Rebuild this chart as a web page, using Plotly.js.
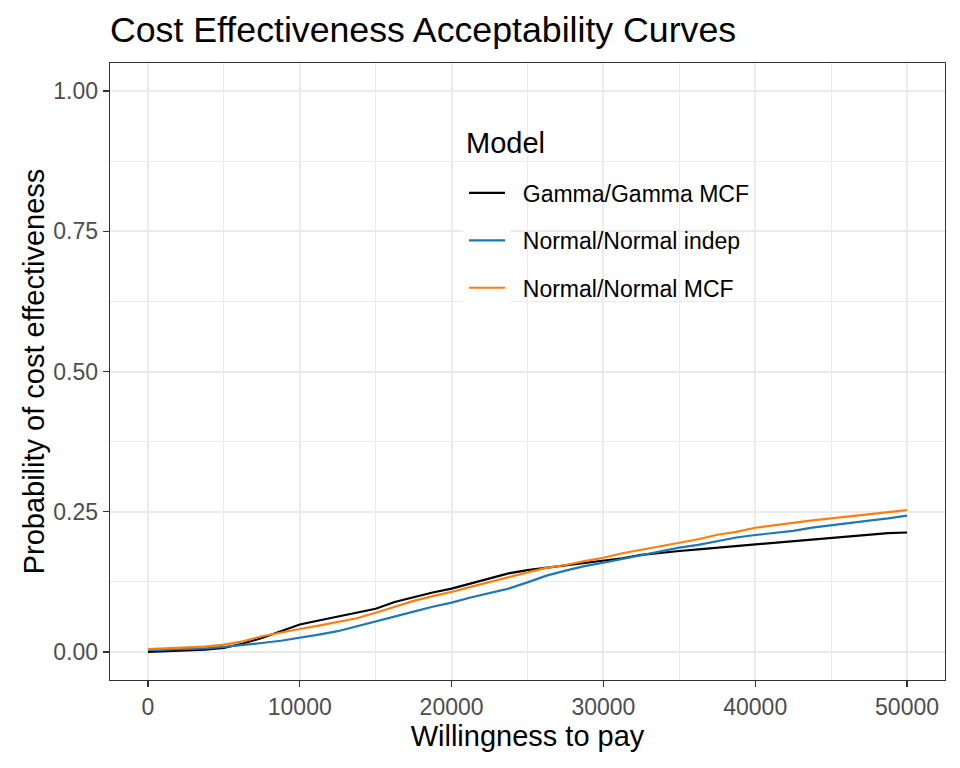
<!DOCTYPE html>
<html>
<head>
<meta charset="utf-8">
<script src="https://cdn.plot.ly/plotly-3.0.1.min.js"></script>
<style>html,body{margin:0;padding:0;background:#fff;}#chart{width:960px;height:768px;}</style>
</head>
<body>
<div id="chart"></div>
<script>
const wtp = [0, 1250, 2500, 3750, 5000, 6250, 7500, 8750, 10000, 11250, 12500, 13750, 15000,
             16250, 17500, 18750, 20000, 21250, 22500, 23750, 25000, 26250, 27500, 28750, 30000,
             31250, 32500, 33750, 35000, 36250, 37500, 38750, 40000, 41250, 42500, 43750, 45000,
             46250, 47500, 48750, 50000];
const gammaMCF  = [0.000, 0.001, 0.002, 0.004, 0.007, 0.015, 0.025, 0.037, 0.049, 0.056, 0.063, 0.069, 0.077,
                   0.089, 0.098, 0.106, 0.113, 0.122, 0.132, 0.140, 0.146, 0.150, 0.155, 0.159, 0.162,
                   0.167, 0.173, 0.177, 0.180, 0.183, 0.186, 0.189, 0.192, 0.195, 0.198, 0.201, 0.204,
                   0.207, 0.210, 0.212, 0.213];
const normIndep = [0.003, 0.004, 0.005, 0.0065, 0.009, 0.012, 0.016, 0.020, 0.025, 0.031, 0.037, 0.046, 0.055,
                   0.064, 0.072, 0.0805, 0.088, 0.097, 0.105, 0.113, 0.124, 0.136, 0.145, 0.153, 0.159,
                   0.166, 0.173, 0.180, 0.186, 0.191, 0.198, 0.204, 0.2085, 0.212, 0.216, 0.2215, 0.226,
                   0.230, 0.234, 0.238, 0.243];
const normMCF   = [0.005, 0.0065, 0.008, 0.0095, 0.013, 0.019, 0.028, 0.035, 0.041, 0.047, 0.053, 0.060, 0.070,
                   0.080, 0.091, 0.0995, 0.107, 0.116, 0.125, 0.134, 0.142, 0.150, 0.155, 0.162, 0.168,
                   0.176, 0.182, 0.188, 0.194, 0.201, 0.209, 0.214, 0.2215, 0.226, 0.230, 0.2345, 0.238,
                   0.242, 0.246, 0.250, 0.253];
const seriesNames = ["Gamma/Gamma MCF", "Normal/Normal indep", "Normal/Normal MCF"];
const seriesColors = ["#000000", "#1f77b4", "#ff7f0e"];
const seriesValues = [gammaMCF, normIndep, normMCF];
const legendTitle = "Model";
const xTicks = [0, 10000, 20000, 30000, 40000, 50000];
const yTicks = [0, 0.25, 0.5, 0.75, 1.0];

const FONT = "Liberation Sans, Arial, sans-serif";
const traces = seriesNames.map((n, i) => ({
  x: wtp, y: seriesValues[i], type: "scatter", mode: "lines",
  name: "\u00a0\u00a0" + n,
  legendgroup: "g" + i,
  line: {color: seriesColors[i], width: 2.2}
}));

const axisCommon = {
  showgrid: true, gridcolor: "#EBEBEB", gridwidth: 2,
  zeroline: false, showline: true, mirror: true, linecolor: "#333333", linewidth: 1.3,
  ticks: "outside", ticklen: 6, tickwidth: 1.3, tickcolor: "#333333",
  tickfont: {family: FONT, size: 23, color: "#4D4D4D"},
  automargin: false
};

const layout = {
  width: 960, height: 768,
  paper_bgcolor: "#ffffff", plot_bgcolor: "#ffffff",
  margin: {l: 110, r: 15, t: 63, b: 88},
  font: {family: FONT, color: "#000"},
  title: {text: "Cost Effectiveness Acceptability Curves", x: 0, xanchor: "left", xref: "paper",
          y: 1 - 30/768, yanchor: "middle", font: {family: FONT, size: 35.7, color: "#000"}},
  xaxis: Object.assign({}, axisCommon, {
    range: [-2500, 52500], tickvals: xTicks, ticktext: xTicks.map(v => String(v)),
    minor: {dtick: 5000, tick0: 0, showgrid: true, gridcolor: "#EBEBEB", gridwidth: 1, ticks: ""},
    title: {text: "Willingness to pay", font: {family: FONT, size: 29, color: "#000"}, standoff: 5}
  }),
  yaxis: Object.assign({}, axisCommon, {
    range: [-0.05, 1.05], tickvals: yTicks, ticktext: yTicks.map(v => v.toFixed(2)),
    minor: {dtick: 0.125, tick0: 0, showgrid: true, gridcolor: "#EBEBEB", gridwidth: 1, ticks: ""},
    title: {text: "Probability of cost effectiveness", font: {family: FONT, size: 29, color: "#000"}, standoff: 0}
  }),
  showlegend: true,
  legend: {
    x: (464 - 110) / 835, y: (680 - 171.5) / 617, xanchor: "left", yanchor: "top",
    bgcolor: "rgba(0,0,0,0)", borderwidth: 0,
    font: {family: FONT, size: 23, color: "#000"},
    traceorder: "grouped", tracegroupgap: 14.5, itemwidth: 36
  },
  annotations: [{
    text: legendTitle, xref: "paper", yref: "paper",
    x: (464 - 110) / 835, y: (680 - 143) / 617, xanchor: "left", yanchor: "middle",
    showarrow: false, font: {family: FONT, size: 29, color: "#000"}
  }],
  shapes: [{
    type: "rect", xref: "paper", yref: "paper", layer: "above",
    x0: (463 - 110) / 835, x1: (510 - 110) / 835,
    y0: (680 - 306) / 617, y1: (680 - 170) / 617,
    fillcolor: "#ffffff", line: {width: 0}
  }]
};

Plotly.newPlot("chart", traces, layout, {displayModeBar: false, staticPlot: true});
</script>
</body>
</html>
